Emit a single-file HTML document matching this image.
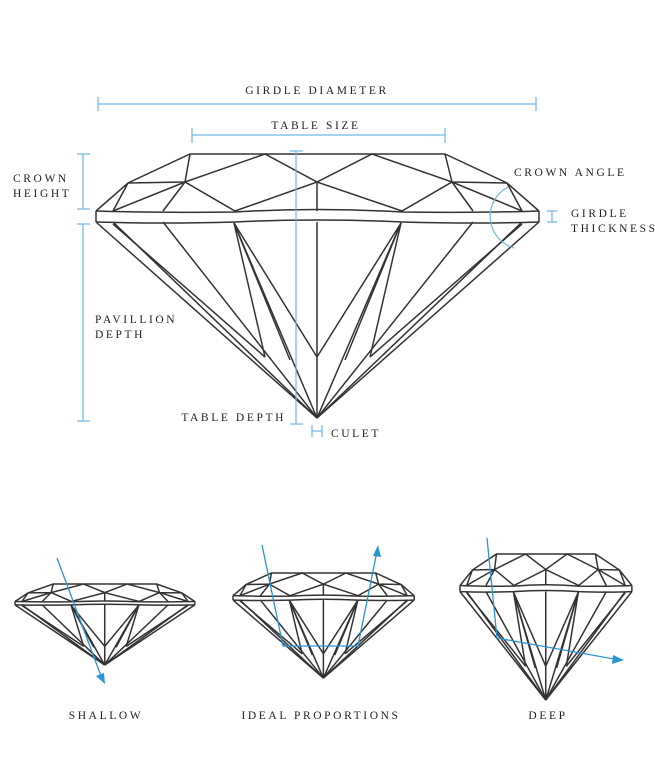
<!DOCTYPE html>
<html><head><meta charset="utf-8"><style>
html,body{margin:0;padding:0;background:#fff;width:655px;height:783px;overflow:hidden}
svg{display:block}
text{font-family:"Liberation Serif",serif;font-size:11.5px;letter-spacing:2.6px;fill:#222}
.d line,.d path,.d polyline{stroke:#333;stroke-width:1.5;fill:none;vector-effect:non-scaling-stroke}
.b{stroke:#6db8e6;stroke-width:1.2;fill:none}
.a{stroke:#2a95d6;stroke-width:1.3;fill:none}
</style></head><body>
<svg width="655" height="783" viewBox="0 0 655 783">
<defs>
<g id="dia" class="d">
  <polyline points="96,211 128,183 190,154 445,154 507,183 539,211"/>
  <line x1="190" y1="154" x2="185" y2="182"/>
  <line x1="445" y1="154" x2="452" y2="182"/>
  <polyline points="128,183 185,182 265,154 317,182 372,154 452,182 507,183"/>
  <polyline points="113,211 185,182 235,211 317,182 402,211 452,182 522,211"/>
  <line x1="128" y1="183" x2="113" y2="211"/>
  <line x1="507" y1="183" x2="522" y2="211"/>
  <line x1="185" y1="182" x2="163" y2="211"/>
  <line x1="452" y1="182" x2="473" y2="211"/>
  <line x1="317" y1="182" x2="317" y2="211"/>
  <path d="M96,211 Q160,213 235,212 Q317,207 402,212 Q480,213 539,211"/>
  <path d="M96,222 Q160,224 235,222 Q317,218 402,222 Q480,224 539,222"/>
  <line x1="96" y1="211" x2="96" y2="222"/>
  <line x1="539" y1="211" x2="539" y2="222"/>
  <line x1="96" y1="222" x2="317" y2="418"/>
  <line x1="113" y1="222" x2="317" y2="418"/>
  <line x1="163" y1="222" x2="317" y2="418"/>
  <line x1="234" y1="223" x2="317" y2="418"/>
  <line x1="317" y1="222" x2="317" y2="418"/>
  <line x1="401" y1="223" x2="317" y2="418"/>
  <line x1="473" y1="222" x2="317" y2="418"/>
  <line x1="522" y1="222" x2="317" y2="418"/>
  <line x1="539" y1="222" x2="317" y2="418"/>
  <line x1="113" y1="224" x2="265" y2="357"/>
  <line x1="522" y1="224" x2="370" y2="357"/>
  <polyline points="265,357 234,223 317,357 401,223 370,357"/>
  <line x1="234" y1="223" x2="290" y2="360"/>
  <line x1="401" y1="223" x2="345" y2="360"/>
</g>
</defs>
<use href="#dia"/>
<g class="b">
  <line x1="98" y1="104" x2="536" y2="104"/><line x1="98" y1="97" x2="98" y2="111"/><line x1="536" y1="97" x2="536" y2="111"/>
  <line x1="192" y1="135" x2="445" y2="135"/><line x1="192" y1="128" x2="192" y2="143"/><line x1="445" y1="128" x2="445" y2="143"/>
  <line x1="83" y1="154" x2="83" y2="209"/><line x1="77" y1="154" x2="90" y2="154"/><line x1="77" y1="209" x2="90" y2="209"/>
  <line x1="83" y1="224" x2="83" y2="421"/><line x1="77" y1="224" x2="90" y2="224"/><line x1="77" y1="421" x2="90" y2="421"/>
  <line x1="296" y1="151" x2="296" y2="424"/><line x1="290" y1="151" x2="303" y2="151"/><line x1="290" y1="424" x2="303" y2="424"/>
  <line x1="312" y1="425" x2="312" y2="437"/><line x1="322" y1="425" x2="322" y2="437"/><line x1="312" y1="431" x2="322" y2="431"/>
  <line x1="552" y1="211" x2="552" y2="222"/><line x1="547" y1="211" x2="557" y2="211"/><line x1="547" y1="222" x2="557" y2="222"/>
  <path d="M508,187 A33,33 0 0 0 514,248"/>
</g>
<text x="317" y="94" text-anchor="middle">GIRDLE DIAMETER</text>
<text x="316" y="129" text-anchor="middle">TABLE SIZE</text>
<text x="13" y="182">CROWN</text><text x="13" y="197">HEIGHT</text>
<text x="95" y="323">PAVILLION</text><text x="95" y="338">DEPTH</text>
<text x="286" y="421" text-anchor="end">TABLE DEPTH</text>
<text x="331" y="437">CULET</text>
<text x="514" y="176">CROWN ANGLE</text>
<text x="571" y="217">GIRDLE</text><text x="571" y="232">THICKNESS</text>
<g transform="translate(15,584) scale(0.406,0.307) translate(-96,-154)"><use href="#dia"/></g>
<g transform="translate(233,573) scale(0.409,0.398) translate(-96,-154)"><use href="#dia"/></g>
<g transform="translate(460,554) scale(0.388,0.553) translate(-96,-154)"><use href="#dia"/></g>
<g class="a">
  <line x1="57" y1="558" x2="101" y2="676"/>
  <polyline points="262,545 283,646 358,646 376,556"/>
  <polyline points="487,538 497,638 614,659"/>
</g>
<g fill="#2a95d6">
  <polygon points="105,684 96,676 104,673"/>
  <polygon points="378,545 373,556 381,557"/>
  <polygon points="624,660 613,655 612,664"/>
</g>
<text x="106" y="719" text-anchor="middle">SHALLOW</text>
<text x="321" y="719" text-anchor="middle">IDEAL PROPORTIONS</text>
<text x="548" y="719" text-anchor="middle">DEEP</text>
</svg>
</body></html>
